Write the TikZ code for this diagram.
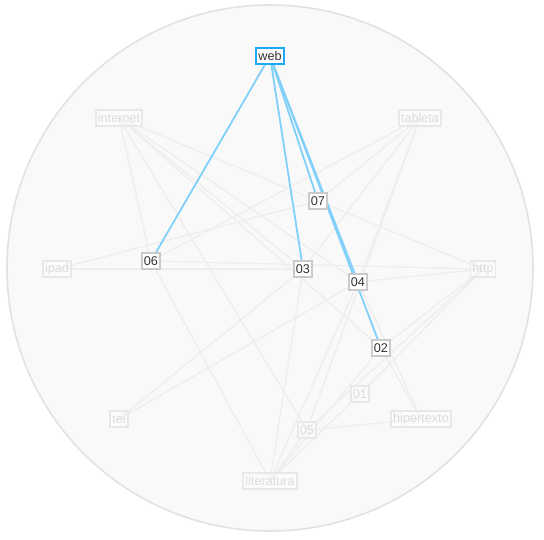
\documentclass[tikz,border=0pt]{standalone}
\usepackage{fontspec}
\setmainfont{Liberation Sans}
\definecolor{circfill}{HTML}{F9F9F9}
\definecolor{circline}{HTML}{E2E2E2}
\definecolor{blueedge}{HTML}{80D0FA}
\definecolor{webline}{HTML}{1EA7F2}
\definecolor{grayedge}{HTML}{EEEEEE}
\definecolor{docline}{HTML}{CACACA}
\definecolor{docText}{HTML}{333333}
\definecolor{faintline}{HTML}{E8E8E8}
\definecolor{faintText}{HTML}{DCDCDC}
\begin{document}
\begin{tikzpicture}[x=0.75pt,y=-0.75pt,
  base/.style={rectangle,inner xsep=1.6pt,inner ysep=0pt,minimum height=12.4pt,font=\fontsize{9.5}{10}\selectfont},
  docnode/.style={base,draw=docline,line width=1.2pt,fill=white,text=docText},
  faintnode/.style={base,draw=faintline,line width=1.2pt,fill=white,fill opacity=0.35,text opacity=1,text=faintText},
  webnode/.style={base,draw=webline,line width=1.5pt,fill=white,text=docText},
  hl/.style={draw=blueedge,line width=1.35pt},
  gl/.style={draw=grayedge,line width=1pt}]
\useasboundingbox (0,0) rectangle (544,540);
\fill[white] (0,0) rectangle (544,540);
\draw[circline,fill=circfill,line width=1.2pt] (270,268) circle[radius=263];
% coordinates of nodes
\coordinate (cweb) at (270,56);
\coordinate (ctab) at (420,118);
\coordinate (chttp) at (483,269);
\coordinate (chip) at (421,419);
\coordinate (clit) at (270,481);
\coordinate (ctei) at (119,419);
\coordinate (cipad) at (57,269);
\coordinate (cint) at (119,118);
\coordinate (c07) at (318,201);
\coordinate (c06) at (151,261);
\coordinate (c03) at (303,269);
\coordinate (c04) at (358,282);
\coordinate (c02) at (381,348);
\coordinate (c01) at (360,394);
\coordinate (c05) at (307,430);
% gray edges
\foreach \a/\b in {cint/c06,cint/c05,cint/c03,cint/c02,cint/c04,cint/c07,
  ctab/c06,ctab/c07,ctab/c03,ctab/c04,ctab/c05,
  cipad/c07,cipad/c03,
  chttp/c07,chttp/c06,chttp/c04,chttp/c05,chttp/c01,chttp/c02,
  chip/c05,chip/c02,chip/c04,
  clit/c06,clit/c03,clit/c04,clit/c05,clit/c01,clit/c02,
  ctei/c03,ctei/c04}
  \draw[gl] (\a) -- (\b);
% highlighted edges
\foreach \b in {c06,c03,c07,c04,c02}
  \draw[hl] (cweb) -- (\b);
% nodes
\node[faintnode] (tableta) at (ctab) {tableta};
\node[faintnode] (http) at (chttp) {http};
\node[faintnode] (hipertexto) at (chip) {hipertexto};
\node[faintnode] (literatura) at (clit) {literatura};
\node[faintnode] (tei) at (ctei) {tei};
\node[faintnode] (ipad) at (cipad) {ipad};
\node[faintnode] (internet) at (cint) {internet};
\node[faintnode] (n01) at (c01) {01};
\node[faintnode] (n05) at (c05) {05};
\node[docnode] (n07) at (c07) {07};
\node[docnode] (n06) at (c06) {06};
\node[docnode] (n03) at (c03) {03};
\node[docnode] (n04) at (c04) {04};
\node[docnode] (n02) at (c02) {02};
\node[webnode] (web) at (cweb) {web};
\end{tikzpicture}
\end{document}
